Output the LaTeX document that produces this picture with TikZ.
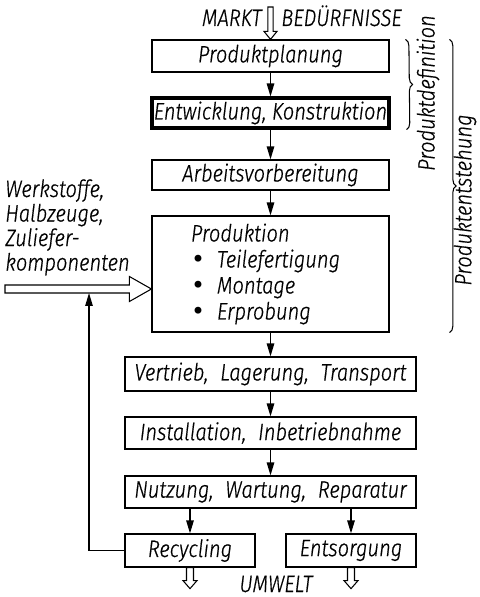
\documentclass[tikz,border=0pt]{standalone}
\usepackage{fontspec}
\setmainfont{Fira Sans Light Italic}[FakeStretch=0.85, FakeBold=0.6]
\newfontfamily\dotfont{DejaVu Sans}
\usetikzlibrary{arrows.meta,decorations.pathreplacing,calc}
\tikzset{
  box/.style={draw, line width=0.7pt, inner sep=0pt, minimum height=0.64cm},
  widebox/.style={box, minimum width=4.74cm},
  longbox/.style={box, minimum width=5.82cm},
  endbox/.style={box, minimum width=2.6cm, minimum height=0.66cm},
  flow/.style={line width=0.7pt, -{Triangle[length=0.26cm, width=0.15cm]}},
  hollow/.style={draw, line width=0.6pt, fill=white},
  curly/.style={decorate, decoration={brace, amplitude=0.13cm}, line width=0.6pt},
}
\newcommand{\hollowdown}[5]{%
  \draw[hollow] ($(#1)+(-#3,0)$) -- ($(#2)+(-#3,-#5)$) -- ($(#2)+(-#4,-#5)$) -- (#2)
    -- ($(#2)+(#4,-#5)$) -- ($(#2)+(#3,-#5)$) -- ($(#1)+(#3,0)$) -- cycle;}
\newcommand{\punkt}{\makebox[0.52cm][l]{\dotfont •}}
\begin{document}
\begin{tikzpicture}[x=0.02cm, y=-0.02cm, font=\fontsize{13.5}{14.8}\selectfont]
  \useasboundingbox (0,0) rectangle (479,597);
  \node[widebox] (plan) at (270.5,56) {Produktplanung};
  \node[widebox, line width=1.8pt, minimum height=0.6cm] (konstr) at (270.5,113) {Entwicklung, Konstruktion};
  \node[widebox, minimum height=0.6cm] (avor) at (270.5,175) {Arbeitsvorbereitung};
  \node[widebox, minimum height=2.32cm, text width=3.18cm, inner xsep=0.78cm, align=left] (prod) at (270.5,274)
    {Produktion\\
     \punkt Teilefertigung\\
     \punkt Montage\\
     \punkt Erprobung};
  \node[longbox, minimum height=0.68cm] (vertrieb) at (270.5,374) {Vertrieb,\enspace Lagerung,\enspace Transport};
  \node[longbox] (install) at (270.5,433) {Installation,\enspace Inbetriebnahme};
  \node[longbox] (nutzung) at (270.5,492) {Nutzung,\enspace Wartung,\enspace Reparatur};
  \node[endbox] (recyc) at (190,550.5) {Recycling};
  \node[endbox] (entsorg) at (351,550.5) {Entsorgung};

  \node[anchor=base east, inner sep=0pt] (markt) at (262,26) {MARKT};
  \node[anchor=base west, inner sep=0pt] (bedarf) at (281,26) {BEDÜRFNISSE};
  \node[anchor=base, inner sep=0pt] (umwelt) at (276,592) {UMWELT};
  \node[anchor=north west, inner sep=0pt, align=left, font=\fontsize{13.5}{13.95}\selectfont] (stoffe) at (5,179)
    {Werkstoffe,\\Halbzeuge,\\Zuliefer-\\komponenten};
  \node[rotate=90] (pdef) at (428,93) {Produktdefinition};
  \node[rotate=90] (pent) at (465,200) {Produktentstehung};

  \coordinate (oben) at (270.5,7);
  \coordinate (zufuhr) at (5,289);
  \coordinate (rueck) at (89,293);
  \coordinate (aus1) at ($(recyc.south)+(0,21)$);
  \coordinate (aus2) at ($(entsorg.south)+(0,21)$);

  \begin{scope}[flow]
    \draw (plan) -- (konstr);
    \draw (konstr) -- (avor);
    \draw (avor) -- (prod);
    \draw (prod) -- (vertrieb);
    \draw (vertrieb) -- (install);
    \draw (install) -- (nutzung);
    \draw (recyc.north |- nutzung.south) -- (recyc.north);
    \draw (entsorg.north |- nutzung.south) -- (entsorg.north);
    \draw (recyc.west) -| (rueck);
  \end{scope}

  \hollowdown{oben}{plan.north}{2.7}{6.5}{8}
  \hollowdown{recyc.south}{aus1}{3.5}{7}{8}
  \hollowdown{entsorg.south}{aus2}{3.5}{7}{8}
  \draw[hollow] ($(zufuhr)+(0,-4)$) -- ($(prod.west|-zufuhr)+(-22,-4)$) -- ($(prod.west|-zufuhr)+(-22,-12.5)$)
    -- (prod.west|-zufuhr) -- ($(prod.west|-zufuhr)+(-22,12.5)$) -- ($(prod.west|-zufuhr)+(-22,4)$)
    -- ($(zufuhr)+(0,4)$) -- cycle;

  \draw[curly] ($(plan.north east)+(16,0)$) -- ($(konstr.south east)+(16,0)$);
  \draw[curly] ($(plan.north east)+(60,0)$) -- ($(prod.south east)+(60,0)$);
\end{tikzpicture}
\end{document}
